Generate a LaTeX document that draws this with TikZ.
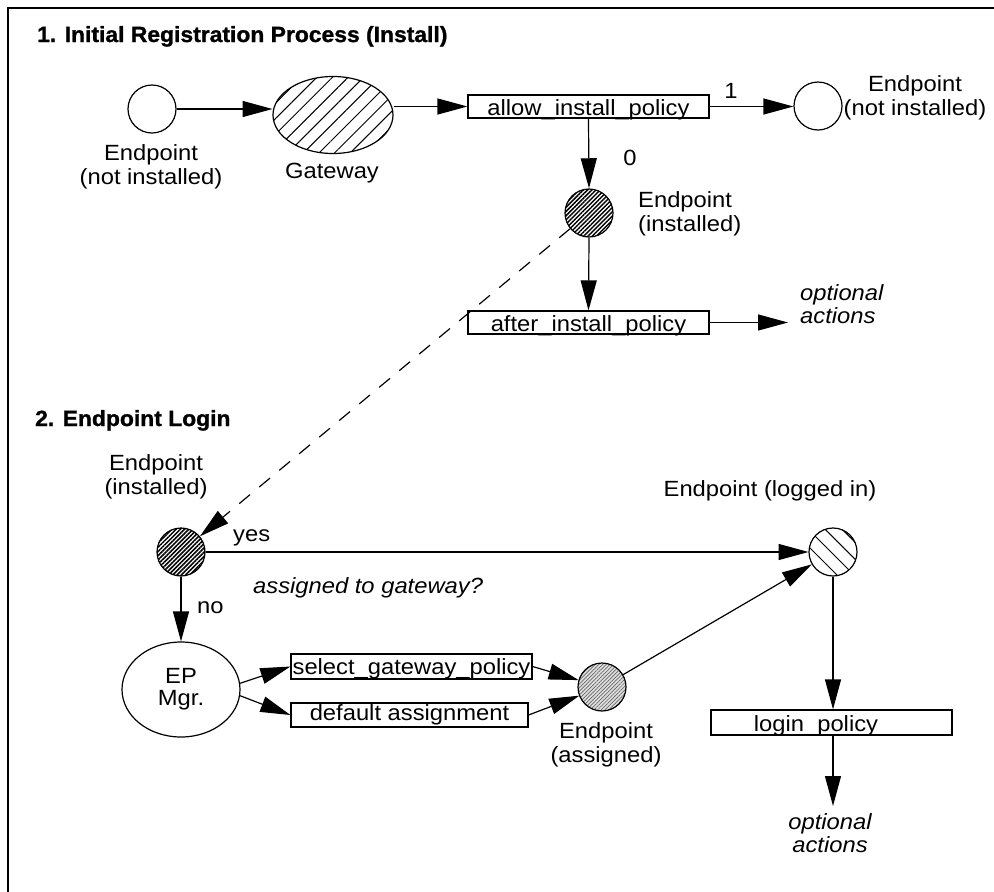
\documentclass[tikz,border=0pt]{standalone}
\usepackage{fontspec}
\setmainfont{Liberation Sans}[FakeStretch=1.08]
\newfontfamily\headfont{Liberation Sans}[UprightFont={* Bold}, FakeBold=1.2, FakeStretch=1.04]
\usetikzlibrary{arrows.meta,patterns.meta,shapes.geometric}
\begin{document}
\begin{tikzpicture}[x=1pt,y=-1pt,
  every node/.style={inner sep=0pt},
  txt/.style={font=\fontsize{22}{24}\selectfont, align=center},
  itx/.style={font=\fontsize{22}{23}\selectfont\itshape, align=left},
  ttl/.style={font=\fontsize{22}{24}\selectfont\headfont, anchor=base west},
  edge/.style={line width=1.2pt},
  arr/.style={edge, -{Triangle[length=30pt,width=16pt]}},
  state/.style={circle, draw, line width=1.2pt, minimum size=48pt},
  plain/.style={state, fill=white},
  installed/.style={state, preaction={fill=white},
    pattern={Lines[angle=45,distance=3pt,line width=1.5pt]}},
  assigned/.style={state, preaction={fill=gray!25},
    pattern={Lines[angle=45,distance=2.6pt,line width=0.7pt]}, pattern color=black!60},
  loggedin/.style={state, preaction={fill=white},
    pattern={Lines[angle=-45,distance=12pt,line width=1pt]}},
  gateway/.style={ellipse, draw, line width=1.2pt, minimum width=120pt, minimum height=77pt,
    preaction={fill=white}, pattern={Lines[angle=45,distance=11pt,line width=1pt]}},
  mgr/.style={ellipse, draw, line width=1.2pt, minimum width=118pt, minimum height=95pt,
    txt, font=\fontsize{22}{22}\selectfont},
  pbox/.style={draw, line width=1.2pt, rectangle, font=\fontsize{22}{24}\selectfont}
]
\useasboundingbox (0,0) rectangle (994,892);

% frame
\draw[line width=1.5pt] (8,892) -- (8,8) -- (994,8);

% ---- 1. Initial registration
\node[ttl] (t1) at (37,42) {1. Initial Registration Process (Install)};
\node[plain] (e1) at (152,109) {};
\node[txt] (e1l) at (151,167) {Endpoint\\(not installed)};
\node[gateway] (gw) at (333,115) {};
\node[txt] (gwl) at (332,173) {Gateway};
\node[pbox, minimum width=241pt, text height=20.5pt, text depth=2.5pt] (aip) at (588.5,106.5) {allow\_install\_policy};
\node[plain] (e1r) at (818,106) {};
\node[txt] (one) at (731,91) {1};
\node[txt] (e1rl) at (915,98) {Endpoint\\(not installed)};
\node[installed] (epi) at (589,213) {};
\node[txt] (zero) at (630,158) {0};
\node[txt, anchor=west, align=left] (epil) at (638,214) {Endpoint\\(installed)};
\node[pbox, minimum width=241pt, text height=20pt, text depth=3pt] (aft) at (588.5,322.5) {after\_install\_policy};
\coordinate (o1) at (788,322.5);
\node[itx, anchor=west] (o1l) at (800,304) {optional\\actions};

\draw[arr] (e1) -- (e1 -| gw.west);
\draw[arr] (gw.east |- aip) -- (aip.west);
\draw[arr] (aip.east) -- (aip.east -| e1r.west);
\draw[arr] (aip.south) -- (epi.north);
\draw[arr] (epi.south) -- (aft.north);
\draw[arr] (aft.east) -- (o1);

% ---- 2. Endpoint login
\node[ttl] (t2) at (35,426) {2. Endpoint Login};
\node[txt] (ep2l) at (156,477) {Endpoint\\(installed)};
\node[installed] (ep2) at (181,552) {};
\node[txt, anchor=base west] (yes) at (233,541) {yes};
\node[loggedin] (eli) at (833,552) {};
\node[txt] (elil) at (770,491) {Endpoint (logged in)};
\node[itx, anchor=base west] (q) at (253,593) {assigned to gateway?};
\node[txt, anchor=base west] (no) at (197,613) {no};
\node[mgr] (epm) at (181,689.5) {EP\\Mgr.};
\node[pbox, minimum width=241pt, text height=20pt, text depth=5pt] (sgp) at (411.5,666.5) {select\_gateway\_policy};
\node[pbox, minimum width=237pt, text height=17.7pt, text depth=6.3pt] (dab) at (409.5,715) {default assignment};
\node[assigned] (epa) at (602,687) {};
\node[txt] (epal) at (606,745) {Endpoint\\(assigned)};
\node[pbox, minimum width=241pt, text height=21.7pt, text depth=3.3pt] (lpb) at (831.5,722.5) {\hspace*{-31pt}login\_policy};
\coordinate (o2) at (833,806);
\node[itx, align=center] (o2l) at (830,833) {optional\\actions};

\draw[arr, dash pattern=on 14pt off 12pt] (epi) -- (ep2);
\draw[arr] (ep2) -- (eli);
\draw[arr] (ep2.south) -- (epm.north);
\draw[arr] (epm.6) -- (sgp.west);
\draw[arr] (epm.-6) -- (dab.west);
\draw[arr] (sgp.east) -- (epa);
\draw[arr] (dab.east) -- (epa);
\draw[arr] (epa) -- (eli);
\draw[arr] (eli.south) -- (eli.south |- lpb.north);
\draw[arr] (eli.south |- lpb.south) -- (o2);
\end{tikzpicture}
\end{document}
